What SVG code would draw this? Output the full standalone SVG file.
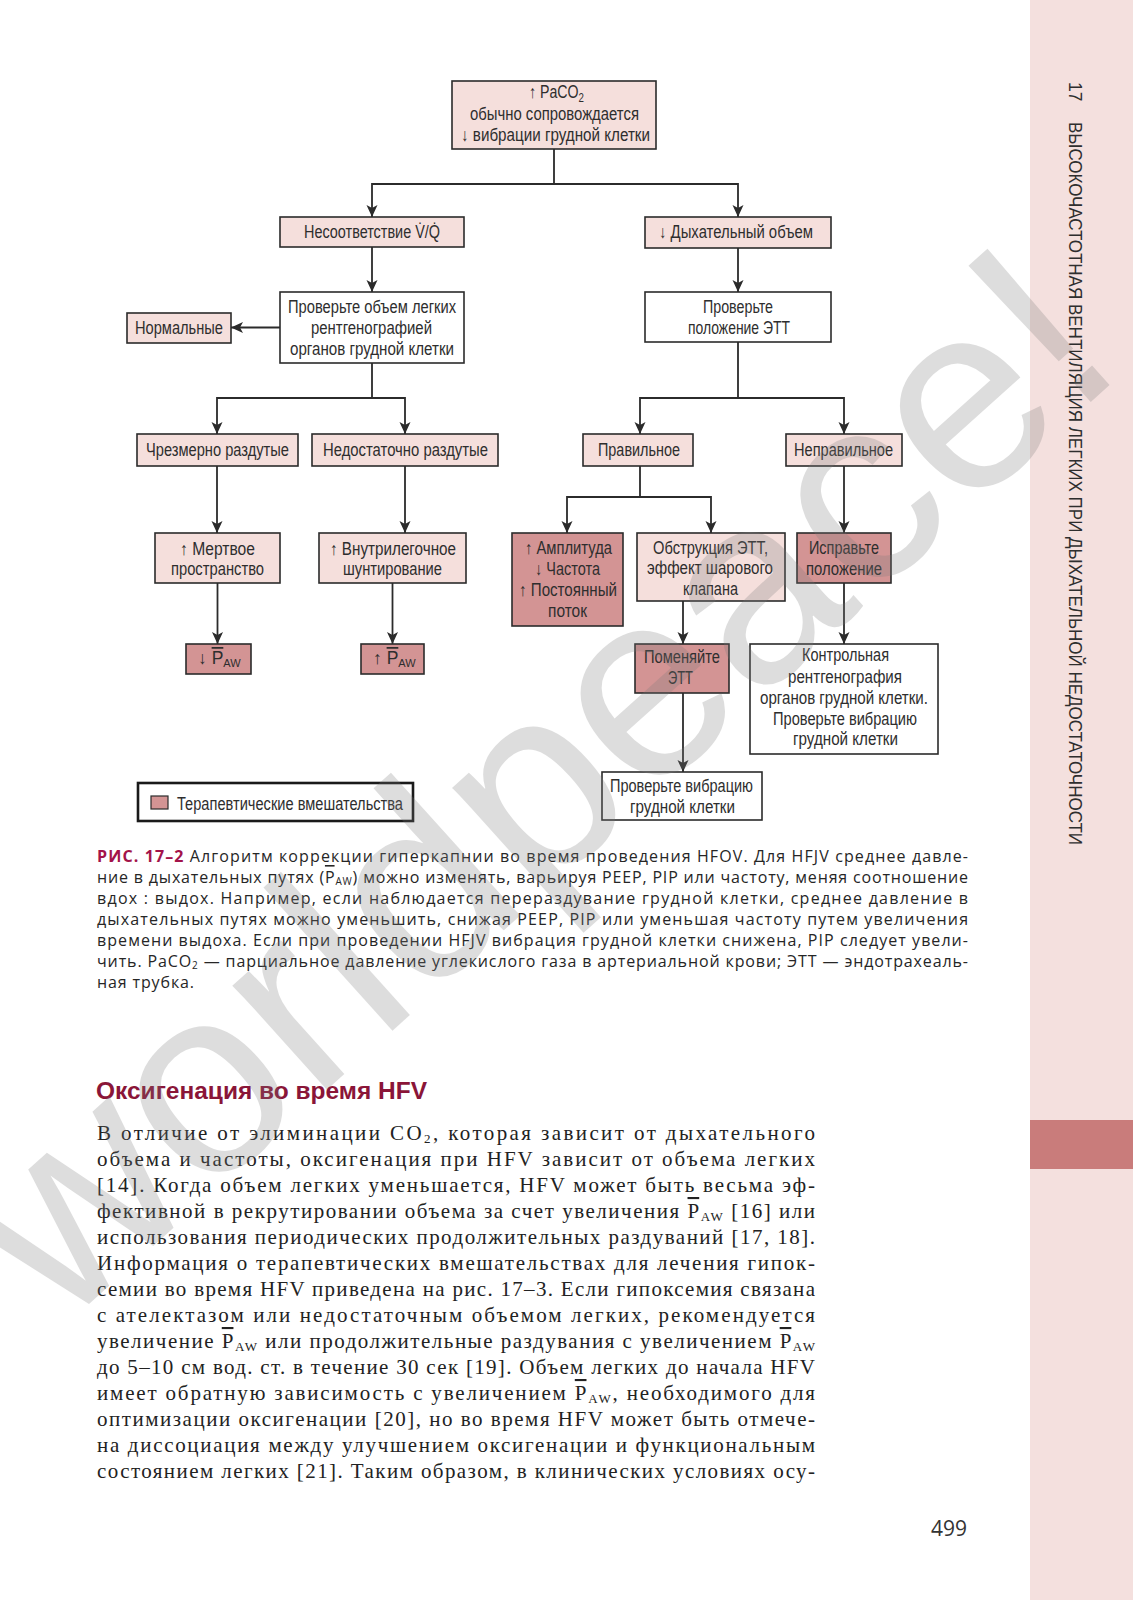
<svg xmlns="http://www.w3.org/2000/svg" width="1133" height="1600" viewBox="0 0 1133 1600">
<defs>
<marker id="ah" viewBox="0 0 12 12" refX="12" refY="6" markerWidth="12" markerHeight="12" markerUnits="userSpaceOnUse" orient="auto">
<path d="M0,0.5 L12,6 L0,11.5 L3,6 z" fill="#2b2b2b"/>
</marker>
<style>
.b{stroke:#2b2b2b;stroke-width:1.6}
.lt{fill:#f5dfdc}
.dk{fill:#d39494}
.wh{fill:#fff}
.t{font-family:"Liberation Sans",Arial,sans-serif;font-size:17.5px;fill:#2e2e2e}
.c{stroke:#2b2b2b;stroke-width:1.8;fill:none;marker-end:url(#ah)}
.cap{font-family:"Open Sans","Noto Sans",sans-serif;font-size:16px;fill:#262626}
.body{font-family:"Liberation Serif","Times New Roman",serif;font-size:21px;fill:#222}
.ov{text-decoration:overline}
</style>
</defs>
<rect width="1133" height="1600" fill="#fff"/>
<g id="sidebar">
<rect x="1030" y="0" width="103" height="1600" fill="#f4e0de"/>
<rect x="1030" y="1120" width="103" height="49" fill="#c97c7b"/>
<text class="t" font-size="15" transform="translate(1069,82) rotate(90)" fill="#333">17</text>
<text class="t" font-size="14" transform="translate(1069,122) rotate(90)" textLength="723" lengthAdjust="spacingAndGlyphs" fill="#333">ВЫСОКОЧАСТОТНАЯ ВЕНТИЛЯЦИЯ ЛЕГКИХ ПРИ ДЫХАТЕЛЬНОЙ НЕДОСТАТОЧНОСТИ</text>
</g>
<g id="connectors">
<path class="c" d="M554,149 V184 H372 V217"/>
<path class="c" d="M554,184 H738 V217"/>
<path class="c" d="M372,247 V292"/>
<path class="c" d="M280,327.5 H231"/>
<path class="c" d="M372,363 V398 H217 V434"/>
<path class="c" d="M372,398 H405 V434"/>
<path class="c" d="M738,248 V292"/>
<path class="c" d="M738,342 V398 H640 V434"/>
<path class="c" d="M738,398 H844 V434"/>
<path class="c" d="M217,466 V533"/>
<path class="c" d="M405,466 V533"/>
<path class="c" d="M217.5,583 V644"/>
<path class="c" d="M392.5,583 V644"/>
<path class="c" d="M640,466 V497 H567 V533"/>
<path class="c" d="M640,497 H711 V533"/>
<path class="c" d="M844,466 V533"/>
<path class="c" d="M683,601 V644"/>
<path class="c" d="M844,583 V644"/>
<path class="c" d="M683,693 V772"/>
</g>
<g id="n1"><rect class="b lt" x="452" y="81" width="204" height="68"/>
<text class="t" x="529" y="98" textLength="55" lengthAdjust="spacingAndGlyphs">↑ PaCO<tspan font-size="12" dy="4">2</tspan></text>
<text class="t" x="470" y="120" textLength="169" lengthAdjust="spacingAndGlyphs">обычно сопровождается</text>
<text class="t" x="461" y="141" textLength="189" lengthAdjust="spacingAndGlyphs">↓ вибрации грудной клетки</text></g>
<g id="n2"><rect class="b lt" x="280" y="217" width="184" height="30"/>
<text class="t" x="304" y="238" textLength="136" lengthAdjust="spacingAndGlyphs">Несоответствие V̇/Q̇</text></g>
<g id="n3"><rect class="b lt" x="645" y="217" width="186" height="31"/>
<text class="t" x="659" y="238" textLength="154" lengthAdjust="spacingAndGlyphs">↓ Дыхательный объем</text></g>
<g id="n4"><rect class="b wh" x="280" y="292" width="184" height="71"/>
<text class="t" x="288" y="313" textLength="168" lengthAdjust="spacingAndGlyphs">Проверьте объем легких</text>
<text class="t" x="311" y="334" textLength="121" lengthAdjust="spacingAndGlyphs">рентгенографией</text>
<text class="t" x="290" y="355" textLength="164" lengthAdjust="spacingAndGlyphs">органов грудной клетки</text></g>
<g id="n5"><rect class="b lt" x="127" y="313" width="104" height="30"/>
<text class="t" x="135" y="334" textLength="88" lengthAdjust="spacingAndGlyphs">Нормальные</text></g>
<g id="n6"><rect class="b wh" x="645" y="292" width="186" height="50"/>
<text class="t" x="703" y="313" textLength="70" lengthAdjust="spacingAndGlyphs">Проверьте</text>
<text class="t" x="688" y="334" textLength="102" lengthAdjust="spacingAndGlyphs">положение ЭТТ</text></g>
<g id="n7"><rect class="b lt" x="137" y="434" width="161" height="32"/>
<text class="t" x="146" y="456" textLength="143" lengthAdjust="spacingAndGlyphs">Чрезмерно раздутые</text></g>
<g id="n8"><rect class="b lt" x="312" y="434" width="186" height="32"/>
<text class="t" x="323" y="456" textLength="165" lengthAdjust="spacingAndGlyphs">Недостаточно раздутые</text></g>
<g id="n9"><rect class="b lt" x="583" y="434" width="110" height="32"/>
<text class="t" x="598" y="456" textLength="82" lengthAdjust="spacingAndGlyphs">Правильное</text></g>
<g id="n10"><rect class="b lt" x="786" y="434" width="116" height="32"/>
<text class="t" x="794" y="456" textLength="99" lengthAdjust="spacingAndGlyphs">Неправильное</text></g>
<g id="n11"><rect class="b lt" x="155" y="533" width="125" height="50"/>
<text class="t" x="180" y="555" textLength="75" lengthAdjust="spacingAndGlyphs">↑ Мертвое</text>
<text class="t" x="171" y="575" textLength="93" lengthAdjust="spacingAndGlyphs">пространство</text></g>
<g id="n12"><rect class="b lt" x="319" y="533" width="147" height="50"/>
<text class="t" x="330" y="555" textLength="126" lengthAdjust="spacingAndGlyphs">↑ Внутрилегочное</text>
<text class="t" x="343" y="575" textLength="99" lengthAdjust="spacingAndGlyphs">шунтирование</text></g>
<g id="n13"><rect class="b dk" x="512" y="533" width="111" height="93"/>
<text class="t" x="525" y="554" textLength="87" lengthAdjust="spacingAndGlyphs">↑ Амплитуда</text>
<text class="t" x="535" y="575" textLength="65" lengthAdjust="spacingAndGlyphs">↓ Частота</text>
<text class="t" x="519" y="596" textLength="98" lengthAdjust="spacingAndGlyphs">↑ Постоянный</text>
<text class="t" x="548" y="617" textLength="39" lengthAdjust="spacingAndGlyphs">поток</text></g>
<g id="n14"><rect class="b lt" x="637" y="533" width="148" height="68"/>
<text class="t" x="653" y="554" textLength="115" lengthAdjust="spacingAndGlyphs">Обструкция ЭТТ,</text>
<text class="t" x="647" y="574" textLength="126" lengthAdjust="spacingAndGlyphs">эффект шарового</text>
<text class="t" x="683" y="595" textLength="55" lengthAdjust="spacingAndGlyphs">клапана</text></g>
<g id="n15"><rect class="b dk" x="797" y="533" width="94" height="50"/>
<text class="t" x="809" y="554" textLength="70" lengthAdjust="spacingAndGlyphs">Исправьте</text>
<text class="t" x="806" y="575" textLength="76" lengthAdjust="spacingAndGlyphs">положение</text></g>
<g id="n16"><rect class="b dk" x="186" y="644" width="65" height="30"/>
<text class="t" x="198" y="664">↓ <tspan class="ov">P</tspan><tspan font-size="11" dy="3">AW</tspan></text></g>
<g id="n17"><rect class="b dk" x="361" y="644" width="63" height="30"/>
<text class="t" x="373" y="664">↑ <tspan class="ov">P</tspan><tspan font-size="11" dy="3">AW</tspan></text></g>
<g id="n18"><rect class="b dk" x="635" y="644" width="94" height="49"/>
<text class="t" x="644" y="663" textLength="76" lengthAdjust="spacingAndGlyphs">Поменяйте</text>
<text class="t" x="668" y="684" textLength="25" lengthAdjust="spacingAndGlyphs">ЭТТ</text></g>
<g id="n19"><rect class="b wh" x="750" y="644" width="188" height="110"/>
<text class="t" x="802" y="661" textLength="87" lengthAdjust="spacingAndGlyphs">Контрольная</text>
<text class="t" x="788" y="683" textLength="114" lengthAdjust="spacingAndGlyphs">рентгенография</text>
<text class="t" x="760" y="704" textLength="168" lengthAdjust="spacingAndGlyphs">органов грудной клетки.</text>
<text class="t" x="773" y="725" textLength="144" lengthAdjust="spacingAndGlyphs">Проверьте вибрацию</text>
<text class="t" x="793" y="745" textLength="105" lengthAdjust="spacingAndGlyphs">грудной клетки</text></g>
<g id="n20"><rect class="b wh" x="602" y="772" width="160" height="48"/>
<text class="t" x="610" y="792" textLength="143" lengthAdjust="spacingAndGlyphs">Проверьте вибрацию</text>
<text class="t" x="630" y="813" textLength="105" lengthAdjust="spacingAndGlyphs">грудной клетки</text></g>
<g id="legend"><rect x="138" y="783" width="275" height="38" fill="#fff" stroke="#1a1a1a" stroke-width="2.6"/>
<rect class="dk" x="151" y="796" width="17" height="13" stroke="#2b2b2b" stroke-width="1.2"/>
<text class="t" x="177" y="810" textLength="226" lengthAdjust="spacingAndGlyphs">Терапевтические вмешательства</text></g>
<g id="caption">
<text class="cap" x="97" y="862" textLength="871" lengthAdjust="spacing"><tspan font-weight="bold" fill="#a3134a">РИС. 17–2</tspan> Алгоритм коррекции гиперкапнии во время проведения HFOV. Для HFJV среднее давле-</text>
<text class="cap" x="97" y="883" textLength="871" lengthAdjust="spacing">ние в дыхательных путях (<tspan class="ov">P</tspan><tspan font-size="10" dy="2">AW</tspan><tspan dy="-2">) можно изменять, варьируя PEEP, PIP или частоту, меняя соотношение</tspan></text>
<text class="cap" x="97" y="904" textLength="871" lengthAdjust="spacing">вдох : выдох. Например, если наблюдается перераздувание грудной клетки, среднее давление в</text>
<text class="cap" x="97" y="925" textLength="871" lengthAdjust="spacing">дыхательных путях можно уменьшить, снижая PEEP, PIP или уменьшая частоту путем увеличения</text>
<text class="cap" x="97" y="946" textLength="871" lengthAdjust="spacing">времени выдоха. Если при проведении HFJV вибрация грудной клетки снижена, PIP следует увели-</text>
<text class="cap" x="97" y="967" textLength="871" lengthAdjust="spacing">чить. PaCO<tspan font-size="10" dy="2">2</tspan><tspan dy="-2"> — парциальное давление углекислого газа в артериальной крови; ЭТТ — эндотрахеаль-</tspan></text>
<text class="cap" x="97" y="988" textLength="97" lengthAdjust="spacing">ная трубка.</text>
</g>
<g id="article">
<text x="96" y="1099" font-family="Liberation Sans,Arial,sans-serif" font-weight="bold" font-size="23" fill="#8a1538" textLength="331" lengthAdjust="spacingAndGlyphs">Оксигенация во время HFV</text>
<text class="body" x="97" y="1140" textLength="718" lengthAdjust="spacing">В отличие от элиминации CO<tspan font-size="13" dy="3">2</tspan><tspan dy="-3">, которая зависит от дыхательного</tspan></text>
<text class="body" x="97" y="1166" textLength="718" lengthAdjust="spacing">объема и частоты, оксигенация при HFV зависит от объема легких</text>
<text class="body" x="97" y="1192" textLength="718" lengthAdjust="spacing">[14]. Когда объем легких уменьшается, HFV может быть весьма эф-</text>
<text class="body" x="97" y="1218" textLength="718" lengthAdjust="spacing">фективной в рекрутировании объема за счет увеличения <tspan class="ov">P</tspan><tspan font-size="13" dy="3">AW</tspan><tspan dy="-3"> [16] или</tspan></text>
<text class="body" x="97" y="1244" textLength="718" lengthAdjust="spacing">использования периодических продолжительных раздуваний [17, 18].</text>
<text class="body" x="97" y="1270" textLength="718" lengthAdjust="spacing">Информация о терапевтических вмешательствах для лечения гипок-</text>
<text class="body" x="97" y="1296" textLength="718" lengthAdjust="spacing">семии во время HFV приведена на рис. 17–3. Если гипоксемия связана</text>
<text class="body" x="97" y="1322" textLength="718" lengthAdjust="spacing">с ателектазом или недостаточным объемом легких, рекомендуется</text>
<text class="body" x="97" y="1348" textLength="718" lengthAdjust="spacing">увеличение <tspan class="ov">P</tspan><tspan font-size="13" dy="3">AW</tspan><tspan dy="-3"> или продолжительные раздувания с увеличением </tspan><tspan class="ov">P</tspan><tspan font-size="13" dy="3">AW</tspan></text>
<text class="body" x="97" y="1374" textLength="718" lengthAdjust="spacing">до 5–10 см вод. ст. в течение 30 сек [19]. Объем легких до начала HFV</text>
<text class="body" x="97" y="1400" textLength="718" lengthAdjust="spacing">имеет обратную зависимость с увеличением <tspan class="ov">P</tspan><tspan font-size="13" dy="3">AW</tspan><tspan dy="-3">, необходимого для</tspan></text>
<text class="body" x="97" y="1426" textLength="718" lengthAdjust="spacing">оптимизации оксигенации [20], но во время HFV может быть отмече-</text>
<text class="body" x="97" y="1452" textLength="718" lengthAdjust="spacing">на диссоциация между улучшением оксигенации и функциональным</text>
<text class="body" x="97" y="1478" textLength="718" lengthAdjust="spacing">состоянием легких [21]. Таким образом, в клинических условиях осу-</text>
<text x="949" y="1536" text-anchor="middle" font-family="Open Sans,Noto Sans,sans-serif" font-size="21" fill="#333">499</text>
</g>
<g id="watermark">
<text transform="translate(60,1330) rotate(-42)" font-family="Liberation Sans,Arial,sans-serif" font-size="266" fill="#7a7a7a" opacity="0.25" textLength="1437" lengthAdjust="spacingAndGlyphs">worldpeace!</text>
</g>
</svg>
